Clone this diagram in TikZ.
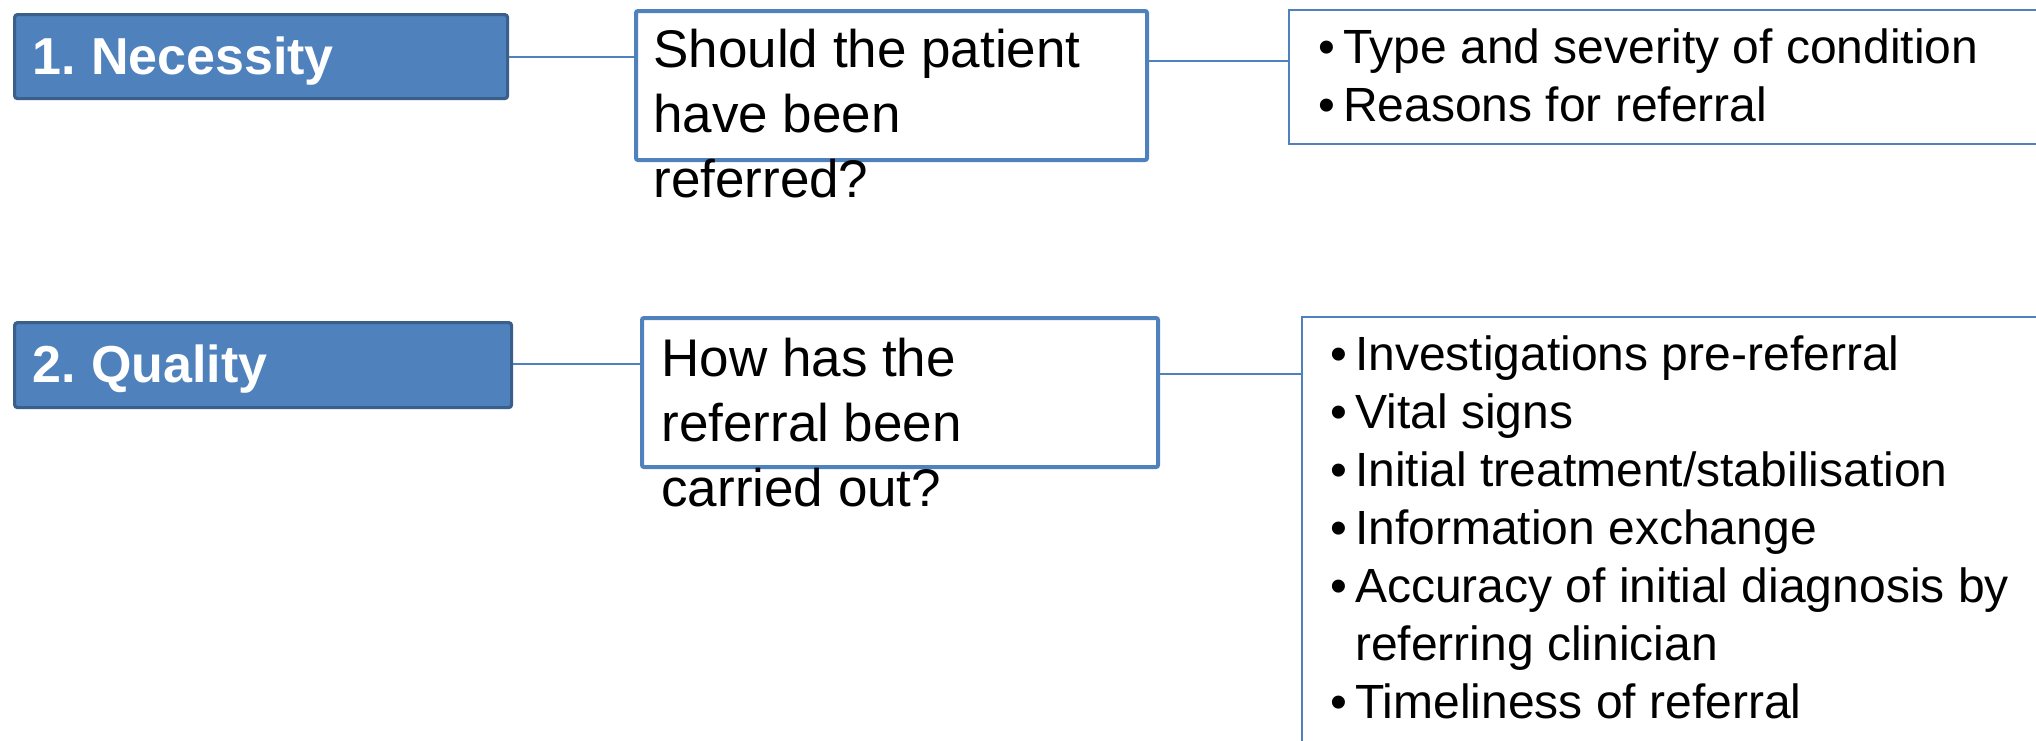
\documentclass[tikz,border=0pt]{standalone}
\usepackage{fontspec}
\setmainfont{Liberation Sans}
\definecolor{accent}{HTML}{4F81BD}
\definecolor{accentdark}{HTML}{3A5F8B}
\begin{document}
\begin{tikzpicture}[x=0.5pt,y=-0.5pt,
 headbox/.style={draw=accentdark, line width=1.6pt, fill=accent, rounded corners=1.5pt, inner sep=0pt, anchor=north west},
 qbox/.style={draw=accent, line width=2pt, fill=white, rounded corners=1pt, inner sep=0pt, anchor=north west},
 listbox/.style={draw=accent, line width=0.8pt, fill=white, inner sep=0pt, anchor=north west},
 headtext/.style={text=white, font=\bfseries\fontsize{26}{31}\selectfont, inner sep=0pt, anchor=base west},
 qtext/.style={font=\fontsize{26.5}{32.5}\selectfont, inner sep=0pt, anchor=base west},
 listtext/.style={font=\fontsize{24}{29}\selectfont, inner sep=0pt, anchor=base west},
 link/.style={draw=accent, line width=0.8pt}]
\useasboundingbox (0,0) rectangle (2036,740);
\clip (0,0) rectangle (2036,740);
\fill[white] (0,0) rectangle (2036,740);

% boxes
\node[headbox, minimum width=246.5pt, minimum height=42pt] (n1) at (13,13) {};
\node[qbox, minimum width=255.5pt, minimum height=74.5pt] (q1) at (634,9) {};
\node[listbox, minimum width=400pt, minimum height=67pt] (b1) at (1288,9) {};
\node[headbox, minimum width=248.5pt, minimum height=42.5pt] (n2) at (13,321) {};
\node[qbox, minimum width=258pt, minimum height=74.5pt] (q2) at (640,316) {};
\node[listbox, minimum width=400pt, minimum height=250pt] (b2) at (1301,316) {};

% connector levels
\coordinate (l1) at (0,57);
\coordinate (l2) at (0,61);
\coordinate (l3) at (0,364);
\coordinate (l4) at (0,374);
\draw[link] (n1.east |- l1) -- (q1.west |- l1);
\draw[link] (q1.east |- l2) -- (b1.west |- l2);
\draw[link] (n2.east |- l3) -- (q2.west |- l3);
\draw[link] (q2.east |- l4) -- (b2.west |- l4);

% texts
\node[headtext] (t1) at (32,74) {1.\hspace{-2pt} Necessity};
\node[headtext] (t2) at (32,382) {2.\hspace{-2pt} Quality};
\node[qtext] (tq1) at (653,67) {\begin{tabular}[t]{@{}l@{}}Should the patient\\ have been\\ referred?\end{tabular}};
\node[qtext] (tq2) at (661,376) {\begin{tabular}[t]{@{}l@{}}How has the\\ referral been\\ carried out?\end{tabular}};
\node[listtext] (tb1) at (1318,63) {\begin{tabular}[t]{@{}l@{\hspace{4pt}}l@{}}•&Type and severity of condition\\ •&Reasons for referral\end{tabular}};
\node[listtext] (tb2) at (1330,370) {\begin{tabular}[t]{@{}l@{\hspace{4pt}}l@{}}•&Investigations pre-referral\\ •&Vital signs\\ •&Initial treatment/stabilisation\\ •&Information exchange\\ •&Accuracy of initial diagnosis by\\ &referring clinician\\ •&Timeliness of referral\end{tabular}};
\end{tikzpicture}
\end{document}
